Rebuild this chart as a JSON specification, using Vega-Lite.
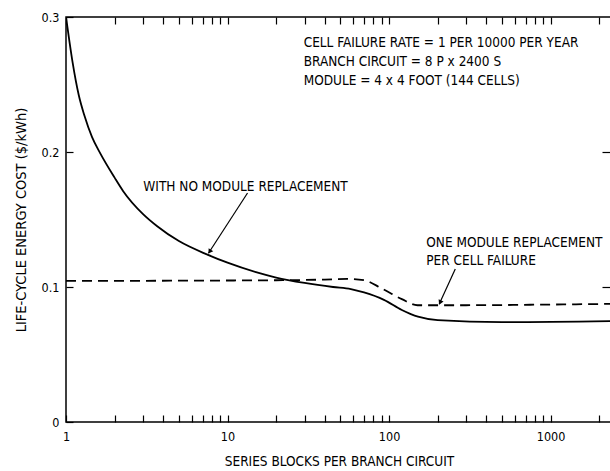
{
  "$schema": "https://vega.github.io/schema/vega-lite/v6.json",
  "width": 546,
  "height": 405,
  "autosize": {"type": "none"},
  "padding": {"left": 66, "top": 17, "right": 0, "bottom": 49},
  "background": "white",
  "config": {
    "view": {"stroke": "black", "strokeWidth": 1.5},
    "axis": {
      "grid": false,
      "domain": false,
      "tickColor": "black",
      "tickWidth": 1.2,
      "labelColor": "black",
      "titleColor": "black",
      "labelFont": "DejaVu Sans Condensed, Liberation Sans, sans-serif",
      "titleFont": "DejaVu Sans Condensed, Liberation Sans, sans-serif",
      "labelFontSize": 12.5,
      "titleFontSize": 13.5,
      "titleFontWeight": "normal"
    },
    "text": {"font": "DejaVu Sans Condensed, Liberation Sans, sans-serif"}
  },
  "datasets": {
    "curves": [
      {"blocks": 1, "cost": 0.3, "series": "No replacement"},
      {"blocks": 1.05, "cost": 0.282, "series": "No replacement"},
      {"blocks": 1.1, "cost": 0.266, "series": "No replacement"},
      {"blocks": 1.2, "cost": 0.242, "series": "No replacement"},
      {"blocks": 1.3, "cost": 0.227, "series": "No replacement"},
      {"blocks": 1.45, "cost": 0.211, "series": "No replacement"},
      {"blocks": 1.63, "cost": 0.199, "series": "No replacement"},
      {"blocks": 2, "cost": 0.181, "series": "No replacement"},
      {"blocks": 2.26, "cost": 0.171, "series": "No replacement"},
      {"blocks": 3, "cost": 0.154, "series": "No replacement"},
      {"blocks": 3.67, "cost": 0.145, "series": "No replacement"},
      {"blocks": 5, "cost": 0.134, "series": "No replacement"},
      {"blocks": 7.5, "cost": 0.124, "series": "No replacement"},
      {"blocks": 10, "cost": 0.118, "series": "No replacement"},
      {"blocks": 15, "cost": 0.111, "series": "No replacement"},
      {"blocks": 20, "cost": 0.107, "series": "No replacement"},
      {"blocks": 30, "cost": 0.103, "series": "No replacement"},
      {"blocks": 45, "cost": 0.1, "series": "No replacement"},
      {"blocks": 58, "cost": 0.0985, "series": "No replacement"},
      {"blocks": 70, "cost": 0.096, "series": "No replacement"},
      {"blocks": 93, "cost": 0.0905, "series": "No replacement"},
      {"blocks": 120, "cost": 0.083, "series": "No replacement"},
      {"blocks": 151, "cost": 0.078, "series": "No replacement"},
      {"blocks": 200, "cost": 0.0755, "series": "No replacement"},
      {"blocks": 500, "cost": 0.074, "series": "No replacement"},
      {"blocks": 2400, "cost": 0.0748, "series": "No replacement"},
      {"blocks": 1, "cost": 0.1045, "series": "One replacement"},
      {"blocks": 20, "cost": 0.105, "series": "One replacement"},
      {"blocks": 40, "cost": 0.1055, "series": "One replacement"},
      {"blocks": 55, "cost": 0.106, "series": "One replacement"},
      {"blocks": 70, "cost": 0.105, "series": "One replacement"},
      {"blocks": 90, "cost": 0.099, "series": "One replacement"},
      {"blocks": 120, "cost": 0.091, "series": "One replacement"},
      {"blocks": 150, "cost": 0.0865, "series": "One replacement"},
      {"blocks": 300, "cost": 0.0865, "series": "One replacement"},
      {"blocks": 1000, "cost": 0.087, "series": "One replacement"},
      {"blocks": 2400, "cost": 0.0875, "series": "One replacement"}
    ],
    "notes": [
      {"blocks": 29.6, "cost": 0.2807, "label": "CELL FAILURE RATE = 1 PER 10000 PER YEAR"},
      {"blocks": 29.6, "cost": 0.2667, "label": "BRANCH CIRCUIT = 8 P x 2400 S"},
      {"blocks": 29.6, "cost": 0.2526, "label": "MODULE = 4 x 4 FOOT (144  CELLS)"},
      {"blocks": 3.01, "cost": 0.174, "label": "WITH NO MODULE REPLACEMENT"},
      {"blocks": 170, "cost": 0.1326, "label": "ONE MODULE REPLACEMENT"},
      {"blocks": 170, "cost": 0.1193, "label": "PER CELL FAILURE"}
    ],
    "arrows": [
      {"bx": 13.3, "by": 0.1696, "ex": 7.62, "ey": 0.125},
      {"bx": 257, "by": 0.1133, "ex": 204.5, "ey": 0.0874}
    ]
  },
  "resolve": {"axis": {"x": "independent", "y": "independent"}},
  "layer": [
    {
      "data": {"name": "curves"},
      "transform": [{"filter": "datum.series === 'No replacement'"}],
      "mark": {"type": "line", "color": "black", "strokeWidth": 1.8, "interpolate": "monotone", "clip": true},
      "encoding": {
        "x": {
          "field": "blocks", "type": "quantitative",
          "scale": {"type": "log", "domain": [1, 2400], "nice": false},
          "axis": {
            "orient": "bottom",
            "title": "SERIES BLOCKS PER BRANCH CIRCUIT",
            "values": [1,2,3,4,5,6,7,8,9,10,20,30,40,50,60,70,80,90,100,200,300,400,500,600,700,800,900,1000,2000],
            "labelExpr": "indexof([1,10,100,1000], datum.value) >= 0 ? format(datum.value, 'd') : ''",
            "labelOverlap": false,
            "labelFlush": false,
            "tickSize": -7,
            "labelPadding": 15,
            "titlePadding": 12
          }
        },
        "y": {
          "field": "cost", "type": "quantitative",
          "scale": {"domain": [0, 0.3], "nice": false},
          "axis": {
            "orient": "left",
            "title": "LIFE-CYCLE ENERGY COST ($/kWh)",
            "titleFontSize": 14.5,
            "values": [0, 0.1, 0.2, 0.3],
            "labelExpr": "datum.value === 0 ? '0' : format(datum.value, '.1f')",
            "tickSize": -7,
            "labelPadding": 14,
            "titlePadding": 13
          }
        }
      }
    },
    {
      "data": {"name": "curves"},
      "transform": [{"filter": "datum.series === 'One replacement'"}],
      "mark": {"type": "line", "color": "black", "strokeWidth": 1.8, "strokeDash": [10, 6], "interpolate": "monotone", "clip": true},
      "encoding": {
        "x": {
          "field": "blocks", "type": "quantitative",
          "axis": {
            "orient": "top",
            "title": null,
            "labels": false,
            "values": [1,2,3,4,5,6,7,8,9,10,20,30,40,50,60,70,80,90,100,200,300,400,500,600,700,800,900,1000,2000],
            "tickSize": -7
          }
        },
        "y": {
          "field": "cost", "type": "quantitative",
          "axis": {
            "orient": "right",
            "title": null,
            "labels": false,
            "values": [0.1, 0.2],
            "tickSize": -10
          }
        }
      }
    },
    {
      "data": {"name": "notes"},
      "mark": {"type": "text", "align": "left", "baseline": "middle", "fontSize": 13.5, "color": "black"},
      "encoding": {
        "x": {"field": "blocks", "type": "quantitative", "axis": null},
        "y": {"field": "cost", "type": "quantitative", "axis": null},
        "text": {"field": "label"}
      }
    },
    {
      "data": {"name": "arrows"},
      "mark": {"type": "rule", "color": "black", "strokeWidth": 1.2},
      "encoding": {
        "x": {"field": "bx", "type": "quantitative", "axis": null},
        "y": {"field": "by", "type": "quantitative", "axis": null},
        "x2": {"field": "ex"},
        "y2": {"field": "ey"}
      }
    },
    {
      "data": {"values": [{"ex": 7.75, "ey": 0.1262}]},
      "mark": {"type": "point", "shape": "triangle-up", "filled": true, "color": "black", "size": 30, "angle": 213, "opacity": 1},
      "encoding": {
        "x": {"field": "ex", "type": "quantitative", "axis": null},
        "y": {"field": "ey", "type": "quantitative", "axis": null}
      }
    },
    {
      "data": {"values": [{"ex": 207, "ey": 0.0885}]},
      "mark": {"type": "point", "shape": "triangle-up", "filled": true, "color": "black", "size": 30, "angle": 205, "opacity": 1},
      "encoding": {
        "x": {"field": "ex", "type": "quantitative", "axis": null},
        "y": {"field": "ey", "type": "quantitative", "axis": null}
      }
    }
  ]
}
